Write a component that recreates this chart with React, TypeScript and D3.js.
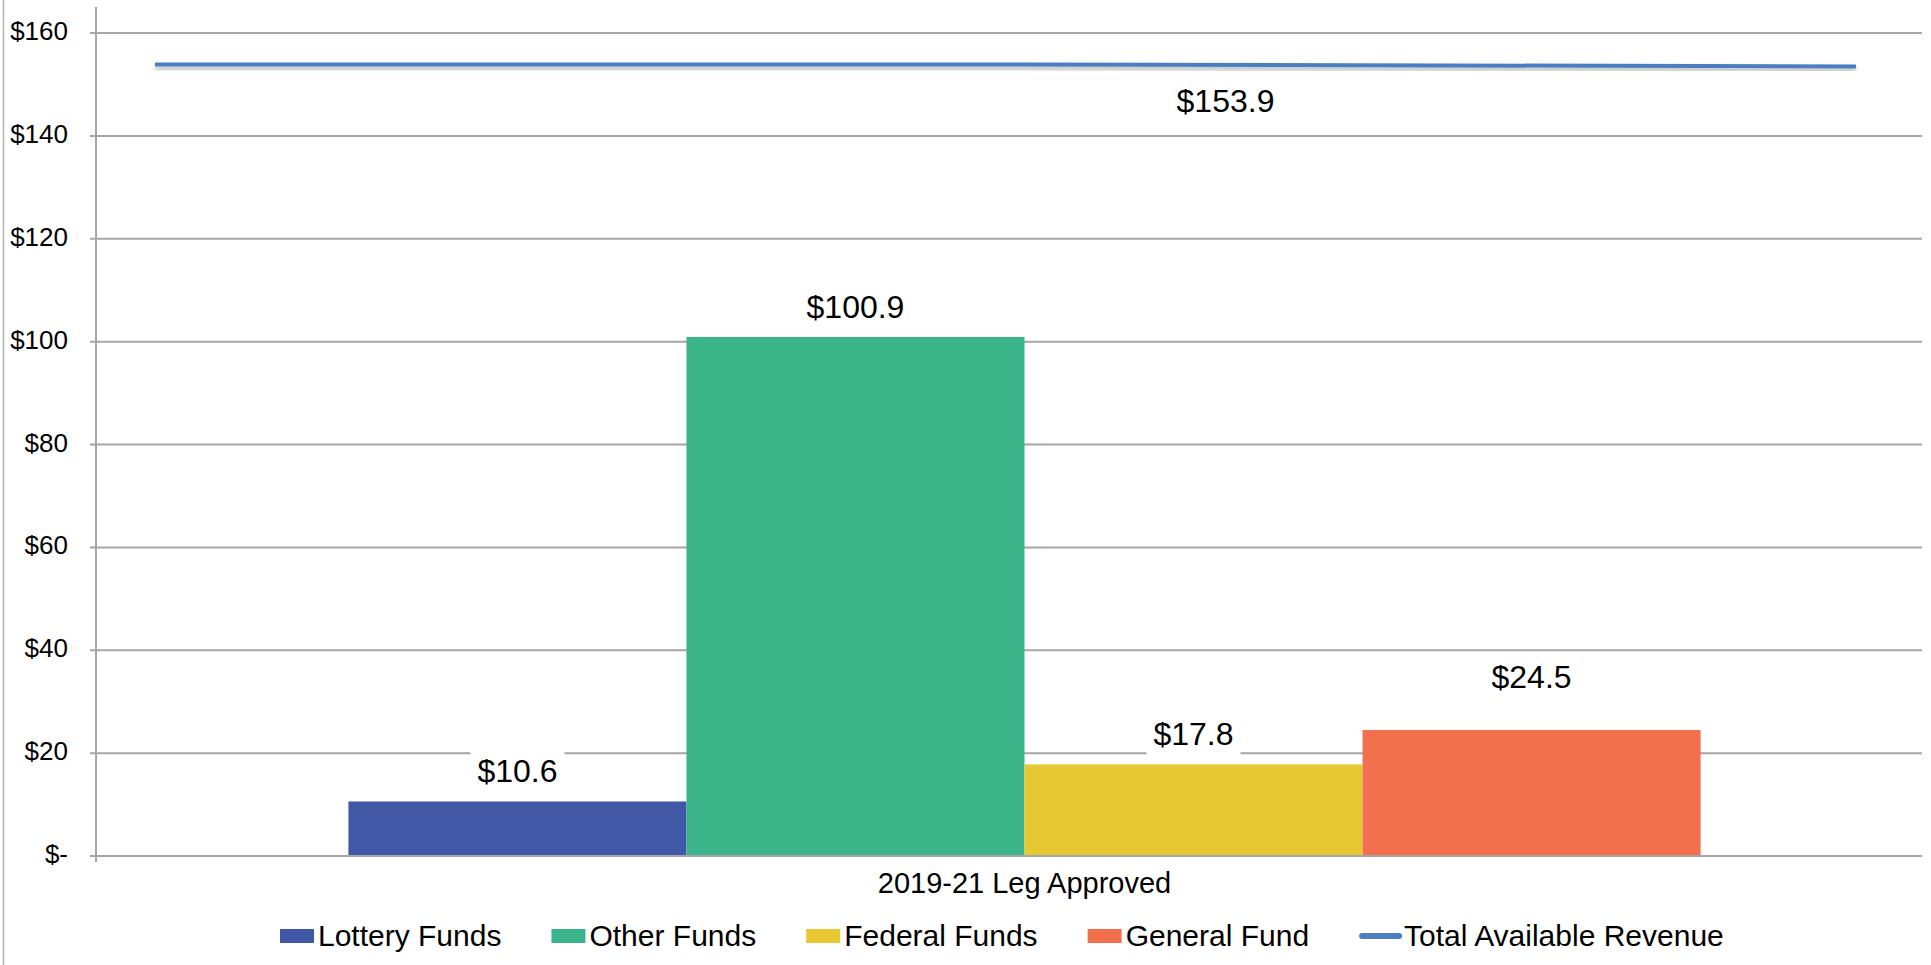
import React, { useRef, useEffect } from 'react';
import * as d3 from 'd3';

// chart data
const categories = ['2019-21 Leg Approved'];
const seriesNames = ['Lottery Funds', 'Other Funds', 'Federal Funds', 'General Fund'];
const seriesValues = [10.6, 100.9, 17.8, 24.5];
const seriesColors = ['#4158a6', '#3cb48a', '#e5c832', '#f2704e'];
const lineName = 'Total Available Revenue';
const lineValues = [153.9, 153.9, 153.5]; // left end, middle, right end
const lineLabelValue = 153.9;
const lineColor = '#4a7fc1';
const yTicks = [0, 20, 40, 60, 80, 100, 120, 140, 160];

const FONT = '"Liberation Sans", Arial, sans-serif';

const App = () => {
  const svgRef = useRef(null);

  useEffect(() => {
    document.body.style.margin = '0';
    document.body.style.overflow = 'hidden';

    const width = 1931;
    const height = 965;
    const plotLeft = 96;
    const plotRight = 1922;
    const grid = '#a6a6a6';

    const svg = d3.select(svgRef.current);
    svg.selectAll('*').remove();

    const yScale = d3.scaleLinear().domain([0, 160]).range([856, 33]);

    // category band (Excel shifted it a little to the right)
    const x0 = d3.scaleBand().domain(categories).range([plotLeft + 31, plotRight]).padding(0);
    const x1 = d3
      .scaleBand()
      .domain(seriesNames)
      .range([0, x0.bandwidth()])
      .paddingInner(0)
      .paddingOuter(0.655);
    const bandStart = x0(categories[0]);
    const bandCenter = bandStart + x0.bandwidth() / 2;

    const defs = svg.append('defs');
    const f = defs.append('filter').attr('id', 'lineShadow').attr('x', '-5%').attr('y', '-200%').attr('width', '110%').attr('height', '500%');
    f.append('feDropShadow').attr('dx', 0).attr('dy', 3).attr('stdDeviation', 2).attr('flood-color', '#000').attr('flood-opacity', 0.3);

    svg.append('rect').attr('width', width).attr('height', height).attr('fill', '#fff');

    // outer chart border on the left
    svg.append('line').attr('x1', 3.5).attr('x2', 3.5).attr('y1', 0).attr('y2', height).attr('stroke', '#b3b3b3').attr('stroke-width', 1.5);

    // gridlines + ticks
    svg
      .append('g')
      .selectAll('line')
      .data(yTicks)
      .enter()
      .append('line')
      .attr('x1', plotLeft - 6)
      .attr('x2', plotRight)
      .attr('y1', d => yScale(d))
      .attr('y2', d => yScale(d))
      .attr('stroke', grid)
      .attr('stroke-width', 2);

    // y axis line
    svg.append('line').attr('x1', plotLeft).attr('x2', plotLeft).attr('y1', 7).attr('y2', yScale(0) + 6).attr('stroke', grid).attr('stroke-width', 2);

    svg
      .append('g')
      .selectAll('text')
      .data(yTicks)
      .enter()
      .append('text')
      .attr('x', 68)
      .attr('y', d => yScale(d) + 7)
      .attr('text-anchor', 'end')
      .attr('font-family', FONT)
      .attr('font-size', 26)
      .attr('fill', '#000')
      .text(d => (d === 0 ? '$-' : `$${d}`));

    // bars
    const data = seriesNames.map((name, i) => ({ name, value: seriesValues[i], color: seriesColors[i] }));
    svg
      .append('g')
      .selectAll('rect')
      .data(data)
      .enter()
      .append('rect')
      .attr('x', d => bandStart + x1(d.name))
      .attr('y', d => yScale(d.value))
      .attr('width', x1.bandwidth())
      .attr('height', d => yScale(0) - yScale(d.value))
      .attr('fill', d => d.color);

    // redraw baseline over bars
    svg.append('line').attr('x1', plotLeft - 6).attr('x2', plotRight).attr('y1', yScale(0)).attr('y2', yScale(0)).attr('stroke', grid).attr('stroke-width', 2);

    // bar labels with white boxes
    const labelLift = { 'General Fund': 42 }; // Excel moved this one up
    const labels = svg.append('g');
    data.forEach(d => {
      const cx = bandStart + x1(d.name) + x1.bandwidth() / 2;
      const baseY = yScale(d.value) - (labelLift[d.name] || 19);
      const box = labels.append('rect').attr('fill', '#fff');
      const t = labels
        .append('text')
        .attr('x', cx)
        .attr('y', baseY)
        .attr('text-anchor', 'middle')
        .attr('font-family', FONT)
        .attr('font-size', 32)
        .attr('fill', '#000')
        .text(`$${d.value.toFixed(1)}`);
      const w = t.node().getComputedTextLength();
      box.attr('x', cx - w / 2 - 7).attr('y', baseY - 33).attr('width', w + 14).attr('height', 44);
    });

    // total revenue line
    const lineX = d3
      .scaleLinear()
      .domain([0, 1, 2])
      .range([bandStart + 28, bandCenter, x0.range()[1] - 66]);
    const line = d3
      .line()
      .x((d, i) => lineX(i))
      .y(d => yScale(d));
    svg
      .append('path')
      .datum(lineValues)
      .attr('d', line)
      .attr('fill', 'none')
      .attr('stroke', lineColor)
      .attr('stroke-width', 4)
      .attr('filter', 'url(#lineShadow)');

    svg
      .append('text')
      .attr('x', bandCenter + 201)
      .attr('y', yScale(lineLabelValue) + 48)
      .attr('text-anchor', 'middle')
      .attr('font-family', FONT)
      .attr('font-size', 32)
      .attr('fill', '#000')
      .text(`$${lineLabelValue.toFixed(1)}`);

    // category label
    svg
      .append('text')
      .attr('x', bandCenter)
      .attr('y', 893)
      .attr('text-anchor', 'middle')
      .attr('font-family', FONT)
      .attr('font-size', 29)
      .attr('fill', '#000')
      .text(categories[0]);

    // legend
    const legend = svg.append('g');
    let lx = 280;
    const legendItems = [...data.map(d => ({ name: d.name, color: d.color, kind: 'bar' })), { name: lineName, color: lineColor, kind: 'line' }];
    legendItems.forEach(item => {
      let textX;
      if (item.kind === 'bar') {
        legend.append('rect').attr('x', lx).attr('y', 929).attr('width', 34).attr('height', 14).attr('fill', item.color);
        textX = lx + 38;
      } else {
        legend
          .append('line')
          .attr('x1', lx + 3)
          .attr('x2', lx + 40)
          .attr('y1', 936)
          .attr('y2', 936)
          .attr('stroke', item.color)
          .attr('stroke-width', 6)
          .attr('stroke-linecap', 'round');
        textX = lx + 45;
      }
      const t = legend
        .append('text')
        .attr('x', textX)
        .attr('y', 946)
        .attr('font-family', FONT)
        .attr('font-size', 30)
        .attr('fill', '#000')
        .text(item.name);
      lx = textX + t.node().getComputedTextLength() + 50;
    });
  }, []);

  return <svg ref={svgRef} width={1931} height={965} style={{ display: 'block' }} />;
};

export default App;
